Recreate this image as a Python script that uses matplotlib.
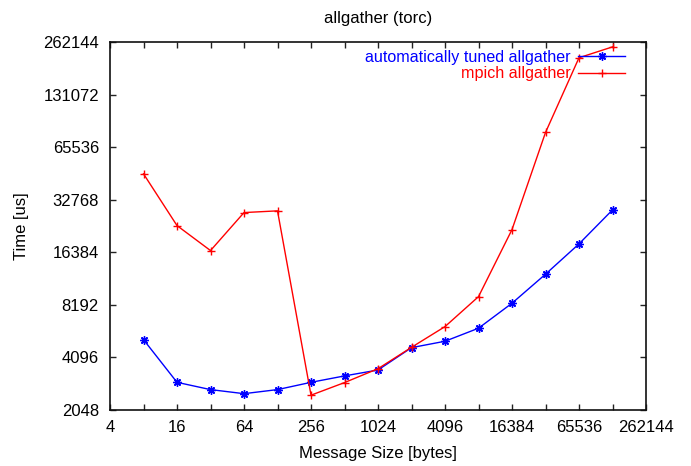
import numpy as np
import matplotlib
matplotlib.use("Agg")
import matplotlib.pyplot as plt
from matplotlib.ticker import FixedLocator, FuncFormatter

plt.rcParams['font.family'] = ['Liberation Sans', 'DejaVu Sans']

# message sizes in bytes
sizes = [8, 16, 32, 64, 128, 256, 512, 1024, 2048, 4096, 8192, 16384, 32768, 65536, 131072]

# times in us
tuned = [5180, 2950, 2680, 2540, 2680, 2950, 3210, 3470, 4660, 5070, 6020, 8370, 12270, 18300, 28650]
mpich = [46100, 23300, 16760, 27660, 28290, 2490, 2940, 3530, 4680, 6150, 9130, 22100, 79500, 213000, 245800]

xticks = [2**k for k in range(2, 19)]
xlabels = [4, 16, 64, 256, 1024, 4096, 16384, 65536, 262144]
yticks = [2048, 4096, 8192, 16384, 32768, 65536, 131072, 262144]

fs = 12

fig = plt.figure(figsize=(6.91, 4.66), dpi=100)
ax = fig.add_axes([110/691, 56/466, 536/691, 368/466])

ax.plot(sizes, tuned, color='#0000ff', lw=1, marker=(8, 2, 0), ms=6, mew=1,
        label='automatically tuned allgather')
ax.plot(sizes, mpich, color='#ff0000', lw=1, marker='+', ms=6, mew=1,
        label='mpich allgather')

ax.set_xscale('log', base=2)
ax.set_yscale('log', base=2)
ax.set_xlim(4, 262144)
ax.set_ylim(2048, 262144)

ax.xaxis.set_major_locator(FixedLocator(xticks))
ax.xaxis.set_major_formatter(FuncFormatter(lambda v, p: str(int(round(v))) if int(round(v)) in xlabels else ''))
ax.xaxis.set_minor_locator(FixedLocator([]))
ax.yaxis.set_major_locator(FixedLocator(yticks))
ax.yaxis.set_major_formatter(FuncFormatter(lambda v, p: str(int(round(v)))))
ax.yaxis.set_minor_locator(FixedLocator([]))

ax.tick_params(direction='in', top=True, right=True, length=4, width=1,
               labelsize=fs, color='#222222')
ax.tick_params(axis='x', pad=7)
ax.tick_params(axis='y', pad=8)
for s in ax.spines.values():
    s.set_linewidth(1.2)
    s.set_color('#111111')

ax.set_xlabel('Message Size [bytes]', fontsize=fs)
ax.set_ylabel('Time [us]', fontsize=fs)
ax.xaxis.set_label_coords(0.5, -0.098)
ax.yaxis.set_label_coords(-0.152, 0.5)
fig.text(378/691, 1 - 18/466, 'allgather (torc)', ha='center', va='center', fontsize=fs)

leg = ax.legend(loc='upper right', frameon=False, markerfirst=False, fontsize=11.6,
                handlelength=2.9, handletextpad=0.5, labelspacing=0.1,
                borderaxespad=0, bbox_to_anchor=(0.973, 0.997))
for t, c in zip(leg.get_texts(), ['#0000ff', '#ff0000']):
    t.set_color(c)
    t.set_ha('right')

fig.savefig('out.png', dpi=100)
